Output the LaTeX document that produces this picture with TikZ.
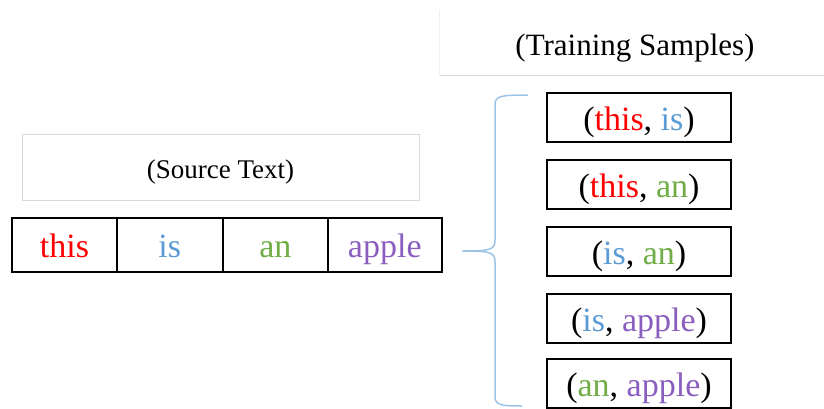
\documentclass[tikz,border=0pt]{standalone}
\usepackage{fontspec}
\setmainfont{Liberation Serif}
\definecolor{wred}{HTML}{FF0000}
\definecolor{wblue}{HTML}{5B9BD5}
\definecolor{wgreen}{HTML}{70AD47}
\definecolor{wpurple}{HTML}{8A5EBF}
\definecolor{bracecol}{HTML}{9DC3E6}
\definecolor{hdrline}{HTML}{D9D9D9}
\definecolor{hdrfaint}{HTML}{F0F0F0}
\begin{document}
\begin{tikzpicture}[x=1pt,y=-1pt,
  wordcell/.style={draw=black, line width=1.8pt, minimum height=54pt, inner sep=0pt,
    font=\fontsize{34}{40}\selectfont, text height=25pt, text depth=0pt},
  pairbox/.style={draw=black, line width=1.8pt, minimum width=184pt, minimum height=49pt, inner sep=0pt,
    font=\fontsize{34}{40}\selectfont, text height=25pt, text depth=0pt},
  brace/.style={draw=bracecol, line width=1.5pt}]
\useasboundingbox (0,0) rectangle (824,408);

% header of the source sentence
\node[draw=hdrline, line width=0.8pt, minimum width=397pt, minimum height=66pt, inner sep=0pt,
      font=\fontsize{27}{32}\selectfont, text height=22pt, text depth=0pt] (src) at (220.5,167) {(Source Text)};

% the sentence, one word per cell
\node[wordcell, minimum width=105pt] (w1) at (64.5,245.3) {\textcolor{wred}{this}};
\node[wordcell, minimum width=105.7pt] (w2) at (169.8,245.3) {\textcolor{wblue}{is}};
\node[wordcell, minimum width=105.3pt] (w3) at (275.3,245.3) {\textcolor{wgreen}{an}};
\node[wordcell, minimum width=113.7pt] (w4) at (384.8,245.3) {\textcolor{wpurple}{apple}};

% header of the training samples
\node[minimum width=390pt, minimum height=65pt, inner sep=0pt,
      font=\fontsize{31}{36}\selectfont, text height=25pt, text depth=0pt] (trn) at (635,42.5) {(Training Samples)};
\draw[hdrfaint, line width=0.8pt] (trn.north west) -- (trn.south west);
\draw[hdrline, line width=0.8pt] (trn.south west) -- (trn.south east);

% word pairs
\node[pairbox] (p1) at (639,117.5) {(\textcolor{wred}{this}, \textcolor{wblue}{is})};
\node[pairbox] (p2) at (639,184.5) {(\textcolor{wred}{this}, \textcolor{wgreen}{an})};
\node[pairbox] (p3) at (639,251.5) {(\textcolor{wblue}{is}, \textcolor{wgreen}{an})};
\node[pairbox] (p4) at (639,318.5) {(\textcolor{wblue}{is}, \textcolor{wpurple}{apple})};
\node[pairbox] (p5) at (639,383.5) {(\textcolor{wgreen}{an}, \textcolor{wpurple}{apple})};

% curly brace gathering the pairs
\coordinate (btop) at (528,95);
\coordinate (btip) at (462,251);
\coordinate (bbot) at (522,406);
\draw[brace] (btop) .. controls (500,95) and (495,96) .. (495,105) -- (495,240)
  .. controls (495,250) and (490,251) .. (btip)
  .. controls (490,251) and (495,252) .. (495,262) -- (495,396)
  .. controls (495,405) and (500,406) .. (bbot);
\end{tikzpicture}
\end{document}
